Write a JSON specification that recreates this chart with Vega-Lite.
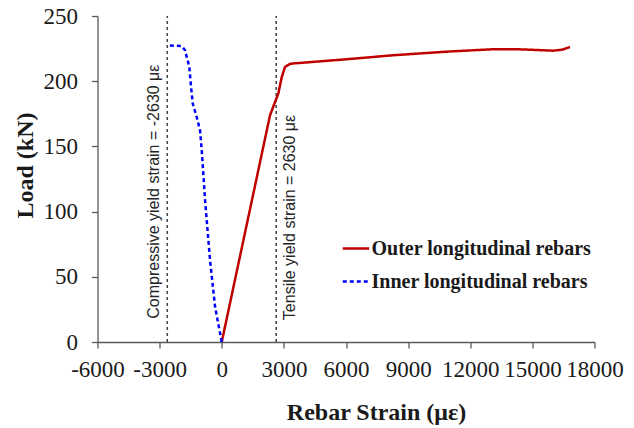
{
  "$schema": "https://vega.github.io/schema/vega-lite/v6.json",
  "autosize": {"type": "none"},
  "padding": {"left": 97.5, "top": 16, "right": 39.5, "bottom": 86},
  "width": 497,
  "height": 326,
  "background": "white",
  "config": {
    "view": {"stroke": null},
    "axis": {
      "grid": false,
      "labelFont": "Liberation Serif",
      "labelFontSize": 23,
      "labelColor": "#1a1a1a",
      "titleFont": "Liberation Serif",
      "titleFontSize": 24,
      "titleFontWeight": "bold",
      "titleColor": "#1a1a1a",
      "domainColor": "#595959",
      "tickColor": "#595959",
      "tickSize": 6,
      "domainWidth": 1.3,
      "tickWidth": 1.3
    }
  },
  "datasets": {
    "curves": [
      {"series": "Outer longitudinal rebars", "i": 0, "strain": 0, "load": 0},
      {"series": "Outer longitudinal rebars", "i": 1, "strain": 2330, "load": 173.8},
      {"series": "Outer longitudinal rebars", "i": 2, "strain": 2500, "load": 181},
      {"series": "Outer longitudinal rebars", "i": 3, "strain": 2605, "load": 185.4},
      {"series": "Outer longitudinal rebars", "i": 4, "strain": 2731, "load": 190.5},
      {"series": "Outer longitudinal rebars", "i": 5, "strain": 2895, "load": 203},
      {"series": "Outer longitudinal rebars", "i": 6, "strain": 3054, "load": 210.9},
      {"series": "Outer longitudinal rebars", "i": 7, "strain": 3296, "load": 213.3},
      {"series": "Outer longitudinal rebars", "i": 8, "strain": 3455, "load": 213.6},
      {"series": "Outer longitudinal rebars", "i": 9, "strain": 6000, "load": 216.8},
      {"series": "Outer longitudinal rebars", "i": 10, "strain": 8283, "load": 219.9},
      {"series": "Outer longitudinal rebars", "i": 11, "strain": 11000, "load": 222.8},
      {"series": "Outer longitudinal rebars", "i": 12, "strain": 13112, "load": 224.5},
      {"series": "Outer longitudinal rebars", "i": 13, "strain": 14500, "load": 224.4},
      {"series": "Outer longitudinal rebars", "i": 14, "strain": 16009, "load": 223.4},
      {"series": "Outer longitudinal rebars", "i": 15, "strain": 16450, "load": 224.2},
      {"series": "Outer longitudinal rebars", "i": 16, "strain": 16815, "load": 226.2},
      {"series": "Inner longitudinal rebars", "i": 0, "strain": 0, "load": 0},
      {"series": "Inner longitudinal rebars", "i": 1, "strain": -323, "load": 27},
      {"series": "Inner longitudinal rebars", "i": 2, "strain": -565, "load": 62.7},
      {"series": "Inner longitudinal rebars", "i": 3, "strain": -806, "load": 108.7},
      {"series": "Inner longitudinal rebars", "i": 4, "strain": -966, "load": 147},
      {"series": "Inner longitudinal rebars", "i": 5, "strain": -1048, "load": 162.3},
      {"series": "Inner longitudinal rebars", "i": 6, "strain": -1208, "load": 172.5},
      {"series": "Inner longitudinal rebars", "i": 7, "strain": -1400, "load": 182.8},
      {"series": "Inner longitudinal rebars", "i": 8, "strain": -1482, "load": 195.6},
      {"series": "Inner longitudinal rebars", "i": 9, "strain": -1565, "load": 210.9},
      {"series": "Inner longitudinal rebars", "i": 10, "strain": -1772, "load": 223.7},
      {"series": "Inner longitudinal rebars", "i": 11, "strain": -1931, "load": 227},
      {"series": "Inner longitudinal rebars", "i": 12, "strain": -2630, "load": 227.5}
    ],
    "yieldlines": [
      {"strain": -2630, "y0": 0, "y1": 250},
      {"strain": 2630, "y0": 0, "y1": 250}
    ],
    "notes": [
      {"strain": -3271, "load": 115.3, "label": "Compressive yield strain = -2630 με"},
      {"strain": 3296, "load": 95.5, "label": "Tensile yield strain = 2630 με"}
    ]
  },
  "layer": [
    {
      "data": {"name": "yieldlines"},
      "mark": {"type": "rule", "color": "#404040", "strokeDash": [3, 3], "strokeWidth": 1.5},
      "encoding": {
        "x": {"field": "strain", "type": "quantitative", "scale": {"domain": [-6000, 18000]}},
        "y": {"field": "y0", "type": "quantitative", "scale": {"domain": [0, 250]}},
        "y2": {"field": "y1"}
      }
    },
    {
      "data": {"name": "curves"},
      "mark": {"type": "line", "strokeWidth": 2.5},
      "encoding": {
        "x": {
          "field": "strain", "type": "quantitative",
          "scale": {"domain": [-6000, 18000], "nice": false},
          "axis": {
            "values": [-6000, -3000, 0, 3000, 6000, 9000, 12000, 15000, 18000],
            "labelExpr": "'' + datum.value",
            "labelPadding": 10,
            "labelFlush": false,
            "labelOverlap": false,
            "title": "Rebar Strain (με)",
            "titleX": 278.5,
            "titleY": 77,
            "titleBaseline": "alphabetic"
          }
        },
        "y": {
          "field": "load", "type": "quantitative",
          "scale": {"domain": [0, 250], "nice": false},
          "axis": {
            "values": [0, 50, 100, 150, 200, 250],
            "labelPadding": 14,
            "labelFlush": false,
            "title": "Load (kN)",
            "titleX": -72,
            "titleY": 149,
            "titleBaseline": "middle",
            "titleAlign": "center",
            "titleAngle": 270
          }
        },
        "order": {"field": "i", "type": "quantitative"},
        "color": {
          "field": "series", "type": "nominal",
          "scale": {"domain": ["Outer longitudinal rebars", "Inner longitudinal rebars"], "range": ["#C00000", "#0000FF"]},
          "legend": {
            "title": null,
            "orient": "none",
            "legendX": 244,
            "legendY": 218,
            "padding": 0,
            "symbolType": "stroke",
            "symbolSize": 700,
            "symbolStrokeWidth": 2.5,
            "symbolOffset": 0,
            "labelOffset": 1,
            "rowPadding": 8,
            "labelFont": "Liberation Serif",
            "labelFontSize": 20,
            "labelFontWeight": "bold",
            "labelColor": "#1a1a1a",
            "labelLimit": 400
          }
        },
        "strokeDash": {
          "field": "series", "type": "nominal",
          "scale": {"domain": ["Outer longitudinal rebars", "Inner longitudinal rebars"], "range": [[1, 0], [4, 3]]},
          "legend": {
            "title": null,
            "orient": "none",
            "legendX": 244,
            "legendY": 218,
            "padding": 0,
            "symbolType": "stroke",
            "symbolSize": 700,
            "symbolStrokeWidth": 2.5,
            "symbolOffset": 0,
            "labelOffset": 1,
            "rowPadding": 8,
            "labelFont": "Liberation Serif",
            "labelFontSize": 20,
            "labelFontWeight": "bold",
            "labelColor": "#1a1a1a",
            "labelLimit": 400
          }
        }
      }
    },
    {
      "data": {"name": "notes"},
      "mark": {"type": "text", "angle": 270, "align": "center", "baseline": "middle", "font": "Liberation Sans", "fontSize": 16, "color": "#262626"},
      "encoding": {
        "x": {"field": "strain", "type": "quantitative"},
        "y": {"field": "load", "type": "quantitative"},
        "text": {"field": "label"}
      }
    }
  ]
}
